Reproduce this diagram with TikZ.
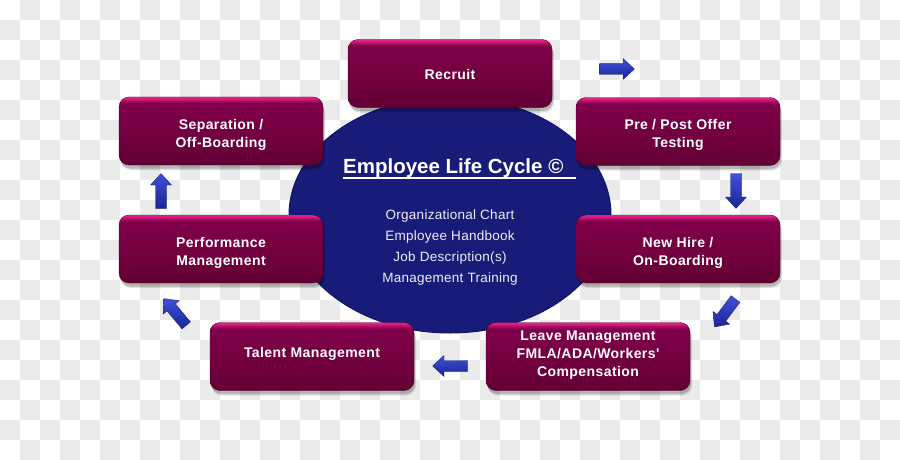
\documentclass[tikz,border=0pt]{standalone}
\usepackage{fontspec}
\setmainfont{Liberation Sans}
\newfontfamily\boxfont[LetterSpace=3]{Liberation Sans}
\newfontfamily\bodyfont[LetterSpace=2]{Liberation Sans}
\usetikzlibrary{shapes.geometric}
\definecolor{checkgray}{HTML}{EBEBEB}
\definecolor{mbot}{HTML}{610032}
\definecolor{mtop}{HTML}{80004A}
\definecolor{mrim}{HTML}{C0126E}
\definecolor{mrimtop}{HTML}{E62A90}
\definecolor{navy}{HTML}{181C78}
\definecolor{navyedge}{HTML}{11156A}
\definecolor{arrlight}{HTML}{4050D8}
\definecolor{arrdark}{HTML}{1A2496}
\pgfdeclareverticalshading{boxshade}{100bp}{color(0bp)=(mbot);color(25bp)=(mbot);color(40bp)=(mbot!60!mtop);color(70.5bp)=(mtop);color(72.8bp)=(mrim);color(75bp)=(mrimtop);color(100bp)=(mrimtop)}
\tikzset{
  stagebox/.style={rectangle, rounded corners=10pt, minimum width=204pt, minimum height=68pt,
    inner sep=0pt, shading=boxshade, draw=mbot!80!black, line width=0.4pt,
    preaction={fill=black, opacity=0.18, transform canvas={shift={(1pt,-3.5pt)}}},
    preaction={fill=black, opacity=0.12, transform canvas={shift={(2pt,-5pt)}}}},
  stagetext/.style={inner sep=0pt, text=white, align=center,
    font=\boxfont\bfseries\fontsize{14}{18}\selectfont},
  bodytext/.style={text=white!92!navy, font=\bodyfont\fontsize{13.5}{16}\selectfont, anchor=base, inner sep=0pt},
  blockarrow/.pic={
    \path[top color=arrlight, bottom color=arrdark, draw=arrdark!80!black, line width=0.3pt]
      (-17.5,-5.5) -- (6,-5.5) -- (6,-10.5) -- (17.5,0) -- (6,10.5) -- (6,5.5) -- (-17.5,5.5) -- cycle;
  }
}
\begin{document}
\begin{tikzpicture}[x=1pt, y=-1pt]
\useasboundingbox (0,0) rectangle (900,460);
% checkerboard background
\fill[white] (0,0) rectangle (900,460);
\foreach \i in {0,2,...,44} {\foreach \j in {1,3,...,21} {\fill[checkgray] (\i*20,\j*20) rectangle ++(20,20);}}
\foreach \i in {1,3,...,43} {\foreach \j in {0,2,...,22} {\fill[checkgray] (\i*20,\j*20) rectangle ++(20,20);}}

% central ellipse
\node[ellipse, fill=navy, draw=navyedge, line width=1pt, minimum width=322pt, minimum height=236pt, inner sep=0pt] (core) at (450,215) {};
\node[anchor=base west, inner sep=0pt, text=white, font=\bfseries\fontsize{20.5}{24}\selectfont] (title) at (343,173) {Employee Life Cycle \textcopyright};
\draw[white, line width=1.6pt] (343,178) coordinate (ulA) -- (576,178) coordinate (ulB);
\node[bodytext] (b1) at (450,219.5) {Organizational Chart};
\node[bodytext] (b2) at (450,240.5) {Employee Handbook};
\node[bodytext] (b3) at (450,261.5) {Job Description(s)};
\node[bodytext] (b4) at (450,282.5) {Management Training};

% stage boxes
\node[stagebox] (recruit) at (450,73.5) {};
\node[stagebox] (offer) at (678,131.5) {};
\node[stagebox] (hire) at (678,249) {};
\node[stagebox] (leave) at (588,356.5) {};
\node[stagebox] (talent) at (312,356.5) {};
\node[stagebox] (perf) at (221,249) {};
\node[stagebox] (sep) at (221,131) {};

\node[stagetext] (recruit-t) at ([yshift=-0.5pt]recruit.center) {Recruit};
\node[stagetext] (offer-t) at ([yshift=-3.5pt]offer.center) {Pre / Post Offer\\Testing};
\node[stagetext] (hire-t) at ([yshift=-3.5pt]hire.center) {New Hire /\\On-Boarding};
\node[stagetext] (leave-t) at ([yshift=1.5pt]leave.center) {Leave Management\\FMLA/ADA/Workers'\\Compensation};
\node[stagetext] (talent-t) at ([yshift=2.5pt]talent.center) {Talent Management};
\node[stagetext] (perf-t) at ([yshift=-3.5pt]perf.center) {Performance\\Management};
\node[stagetext] (sep-t) at ([yshift=-3.5pt]sep.center) {Separation /\\Off-Boarding};

% block arrows
\pic (a1) at (617,69) {blockarrow};
\pic[rotate=-90] (a2) at (736,191) {blockarrow};
\pic[rotate=-127] (a3) at (725,313) {blockarrow};
\pic[rotate=180] (a4) at (450,366) {blockarrow};
\pic[rotate=130] (a5) at (175,312) {blockarrow};
\pic[rotate=90] (a6) at (161,191) {blockarrow};
\end{tikzpicture}
\end{document}
